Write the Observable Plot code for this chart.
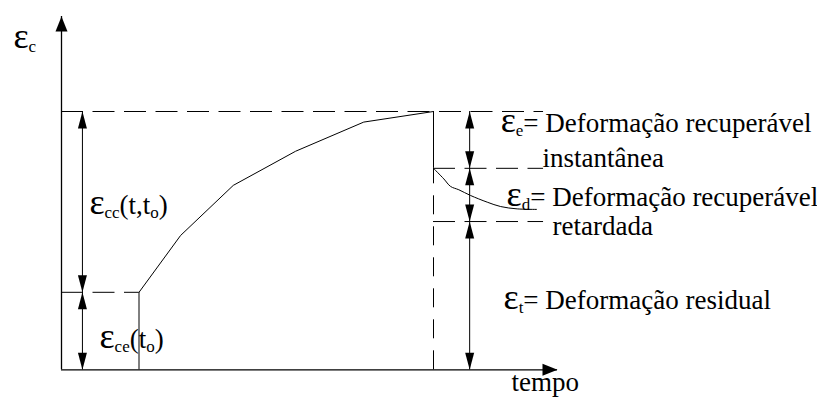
<!DOCTYPE html>
<html>
<head>
<meta charset="utf-8">
<script src="https://cdn.jsdelivr.net/npm/d3@7"></script>
<script src="https://cdn.jsdelivr.net/npm/@observablehq/plot@0.6"></script>
<style>
  html, body { margin: 0; padding: 0; background: #fff; }
  #chart svg { display: block; }
</style>
</head>
<body>
<div id="chart"></div>
<script>
// ---- data (time units / strain units) ----
const creepTime = [30, 46.1, 66.5, 90.6, 117.0, 144];
const creepStrain = [30, 52.0, 71.4, 84.6, 95.9, 100];
const recoveryTime = [144, 148.0, 150.6, 153.8, 158.3, 164.8, 170, 176.4, 183.9];
const recoveryStrain = [78, 73.9, 71.0, 69.7, 67.5, 64.9, 63.2, 62.3, 62.1];
const loadTime = 30;
const unloadTime = 144;
const strainInitial = 30;
const strainMax = 100;
const strainAfterElastic = 78;
const strainResidual = 57.4;
const timeAxisEnd = 192;
const strainAxisEnd = 136.8;
const guideEnd = 186.6;
const dimLeftTime = 8.1;
const dimRightTime = 158;
const labelText = [
  "ε_{c}",
  "ε_{cc}(t,t_{o})",
  "ε_{ce}(t_{o})",
  "ε_{e}= Deformação recuperável",
  "instantânea",
  "ε_{d}= Deformação recuperável",
  "retardada",
  "ε_{t}= Deformação residual",
  "tempo"
];
const labelTime = [-18.6, 10.8, 14.7, 170, 186.2, 172.3, 190.1, 171.1, 174.2];
const labelStrain = [124.4, 60.5, 8.6, 91.9, 78.7, 63.6, 52.0, 23.4, -8.2];

// ---- tables built from the arrays ----
const creep = creepTime.map((t, i) => ({t, e: creepStrain[i]}));
const recovery = recoveryTime.map((t, i) => ({t, e: recoveryStrain[i]}));
const labels = labelText.map((s, i) => ({s, t: labelTime[i], e: labelStrain[i]}));

const hDashed = [
  {e: strainMax, t1: 0, t2: guideEnd},
  {e: strainInitial, t1: 0, t2: loadTime},
  {e: strainAfterElastic, t1: unloadTime, t2: guideEnd},
  {e: strainResidual, t1: unloadTime, t2: guideEnd}
];
const vSolid = [
  {t: loadTime, e1: 0, e2: strainInitial},
  {t: unloadTime, e1: strainAfterElastic, e2: strainMax},
  {t: dimLeftTime, e1: 0, e2: strainMax},
  {t: dimRightTime, e1: 0, e2: strainMax}
];
const vDashed = [{t: unloadTime, e1: 0, e2: strainAfterElastic}];
const dimHeads = [
  {t: dimLeftTime, e: strainMax, r: 0},
  {t: dimLeftTime, e: strainInitial, r: 180},
  {t: dimLeftTime, e: strainInitial, r: 0},
  {t: dimLeftTime, e: 0, r: 180},
  {t: dimRightTime, e: strainMax, r: 0},
  {t: dimRightTime, e: strainAfterElastic, r: 180},
  {t: dimRightTime, e: strainAfterElastic, r: 0},
  {t: dimRightTime, e: strainResidual, r: 180},
  {t: dimRightTime, e: strainResidual, r: 0},
  {t: dimRightTime, e: 0, r: 180}
];
const axisHeads = [
  {t: 0, e: strainAxisEnd, r: 0},
  {t: timeAxisEnd, e: 0, r: 90}
];

// narrow filled triangles, tip at the anchor point, pointing up before rotation
const dimHeadSymbol = {draw(ctx) { ctx.moveTo(0, 0); ctx.lineTo(4.5, 17); ctx.lineTo(-4.5, 17); ctx.closePath(); }};
const axisHeadSymbol = {draw(ctx) { ctx.moveTo(0, 0); ctx.lineTo(6, 15); ctx.lineTo(-6, 15); ctx.closePath(); }};

const dash = "22,9.5";
const serif = "Liberation Serif";

const chart = Plot.plot({
  width: 817,
  height: 399,
  margin: 0,
  style: {background: "#fff", color: "#000"},
  x: {domain: [0, timeAxisEnd], range: [61, 557], axis: null},
  y: {domain: [0, strainMax], range: [369.3, 111], axis: null},
  marks: [
    Plot.ruleY(hDashed, {y: "e", x1: "t1", x2: "t2", stroke: "#000", strokeWidth: 1, strokeDasharray: dash}),
    Plot.ruleX(vDashed, {x: "t", y1: "e1", y2: "e2", stroke: "#000", strokeWidth: 1, strokeDasharray: "19,12"}),
    Plot.ruleX(vSolid, {x: "t", y1: "e1", y2: "e2", stroke: "#000", strokeWidth: 1}),
    Plot.ruleX([0], {y1: 0, y2: strainAxisEnd, stroke: "#000", strokeWidth: 1.3}),
    Plot.ruleY([0], {x1: 0, x2: timeAxisEnd, stroke: "#000", strokeWidth: 1.3}),
    Plot.line(creep, {x: "t", y: "e", stroke: "#000", strokeWidth: 1}),
    Plot.line(recovery, {x: "t", y: "e", stroke: "#000", strokeWidth: 1, curve: "catmull-rom"}),
    Plot.dot(dimHeads, {x: "t", y: "e", rotate: "r", symbol: dimHeadSymbol, r: 5, fill: "#000", stroke: "none"}),
    Plot.dot(axisHeads, {x: "t", y: "e", rotate: "r", symbol: axisHeadSymbol, r: 5, fill: "#000", stroke: "none"}),
    Plot.text(labels, {x: "t", y: "e", text: "s", textAnchor: "start", lineAnchor: "bottom", fontSize: 27, fontFamily: serif, fill: "#000"})
  ]
});

// rich text: enlarge ε and set _{...} parts as subscripts
const subShift = 4;
d3.select(chart).selectAll("text").each(function() {
  const s = this.textContent;
  if (!/ε|_\{/.test(s)) return;
  const el = d3.select(this);
  el.text(null);
  let cur = 0;
  const add = (txt, size, shift) => {
    const ts = el.append("tspan").text(txt);
    if (size) ts.attr("font-size", size);
    if (shift !== cur) { ts.attr("dy", shift - cur); cur = shift; }
  };
  for (const p of s.split(/(_\{[^}]*\})/)) {
    if (!p) continue;
    const m = p.match(/^_\{(.*)\}$/);
    if (m) { add(m[1], 17, subShift); continue; }
    for (const q of p.split(/(ε)/)) {
      if (!q) continue;
      if (q === "ε") add(q, 36, 0);
      else add(q, null, 0);
    }
  }
});

document.getElementById("chart").appendChild(chart);
</script>
</body>
</html>
